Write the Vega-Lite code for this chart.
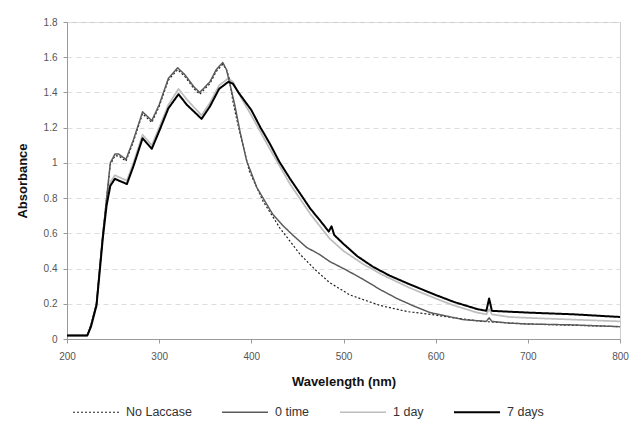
{
  "$schema": "https://vega.github.io/schema/vega-lite/v6.json",
  "width": 553,
  "height": 317,
  "autosize": "none",
  "padding": {"left": 67, "top": 22, "right": 10, "bottom": 82},
  "background": "white",
  "config": {
    "font": "Liberation Sans",
    "view": {"stroke": "#cccccc", "strokeWidth": 1}
  },
  "data": {"values": [
    {"series":"1 day","nm":200,"abs":0.02},{"series":"1 day","nm":210,"abs":0.02},{"series":"1 day","nm":222,"abs":0.02},{"series":"1 day","nm":226,"abs":0.07},{"series":"1 day","nm":232,"abs":0.2},{"series":"1 day","nm":239,"abs":0.6},{"series":"1 day","nm":243,"abs":0.78},{"series":"1 day","nm":247,"abs":0.89},{"series":"1 day","nm":252,"abs":0.93},{"series":"1 day","nm":256,"abs":0.92},{"series":"1 day","nm":265,"abs":0.9},{"series":"1 day","nm":272,"abs":1.0},{"series":"1 day","nm":282,"abs":1.16},{"series":"1 day","nm":292,"abs":1.1},{"series":"1 day","nm":300,"abs":1.2},{"series":"1 day","nm":310,"abs":1.33},{"series":"1 day","nm":321,"abs":1.42},{"series":"1 day","nm":330,"abs":1.36},{"series":"1 day","nm":346,"abs":1.27},{"series":"1 day","nm":355,"abs":1.34},{"series":"1 day","nm":365,"abs":1.44},{"series":"1 day","nm":375,"abs":1.48},{"series":"1 day","nm":380,"abs":1.46},{"series":"1 day","nm":390,"abs":1.36},{"series":"1 day","nm":400,"abs":1.27},{"series":"1 day","nm":420,"abs":1.08},{"series":"1 day","nm":442,"abs":0.88},{"series":"1 day","nm":464,"abs":0.71},{"series":"1 day","nm":485,"abs":0.57},{"series":"1 day","nm":500,"abs":0.5},{"series":"1 day","nm":520,"abs":0.43},{"series":"1 day","nm":540,"abs":0.37},{"series":"1 day","nm":572,"abs":0.29},{"series":"1 day","nm":600,"abs":0.23},{"series":"1 day","nm":620,"abs":0.19},{"series":"1 day","nm":645,"abs":0.15},{"series":"1 day","nm":655,"abs":0.14},{"series":"1 day","nm":658,"abs":0.17},{"series":"1 day","nm":661,"abs":0.14},{"series":"1 day","nm":680,"abs":0.125},{"series":"1 day","nm":700,"abs":0.12},{"series":"1 day","nm":750,"abs":0.11},{"series":"1 day","nm":800,"abs":0.1},

    {"series":"No Laccase","nm":200,"abs":0.02},{"series":"No Laccase","nm":210,"abs":0.02},{"series":"No Laccase","nm":222,"abs":0.02},{"series":"No Laccase","nm":226,"abs":0.08},{"series":"No Laccase","nm":232,"abs":0.2},{"series":"No Laccase","nm":239,"abs":0.6},{"series":"No Laccase","nm":243,"abs":0.8},{"series":"No Laccase","nm":247,"abs":0.99},{"series":"No Laccase","nm":252,"abs":1.04},{"series":"No Laccase","nm":256,"abs":1.04},{"series":"No Laccase","nm":264,"abs":1.01},{"series":"No Laccase","nm":272,"abs":1.12},{"series":"No Laccase","nm":282,"abs":1.28},{"series":"No Laccase","nm":292,"abs":1.23},{"series":"No Laccase","nm":300,"abs":1.32},{"series":"No Laccase","nm":310,"abs":1.47},{"series":"No Laccase","nm":320,"abs":1.53},{"series":"No Laccase","nm":328,"abs":1.49},{"series":"No Laccase","nm":338,"abs":1.42},{"series":"No Laccase","nm":344,"abs":1.39},{"series":"No Laccase","nm":355,"abs":1.45},{"series":"No Laccase","nm":362,"abs":1.52},{"series":"No Laccase","nm":369,"abs":1.56},{"series":"No Laccase","nm":373,"abs":1.53},{"series":"No Laccase","nm":376,"abs":1.48},{"series":"No Laccase","nm":380,"abs":1.35},{"series":"No Laccase","nm":384,"abs":1.25},{"series":"No Laccase","nm":390,"abs":1.12},{"series":"No Laccase","nm":398,"abs":0.95},{"series":"No Laccase","nm":413,"abs":0.78},{"series":"No Laccase","nm":431,"abs":0.63},{"series":"No Laccase","nm":453,"abs":0.48},{"series":"No Laccase","nm":470,"abs":0.39},{"series":"No Laccase","nm":485,"abs":0.32},{"series":"No Laccase","nm":507,"abs":0.25},{"series":"No Laccase","nm":540,"abs":0.19},{"series":"No Laccase","nm":570,"abs":0.155},{"series":"No Laccase","nm":594,"abs":0.14},{"series":"No Laccase","nm":620,"abs":0.12},{"series":"No Laccase","nm":650,"abs":0.1},{"series":"No Laccase","nm":700,"abs":0.085},{"series":"No Laccase","nm":800,"abs":0.07},

    {"series":"0 time","nm":200,"abs":0.02},{"series":"0 time","nm":210,"abs":0.02},{"series":"0 time","nm":222,"abs":0.02},{"series":"0 time","nm":226,"abs":0.08},{"series":"0 time","nm":232,"abs":0.2},{"series":"0 time","nm":239,"abs":0.6},{"series":"0 time","nm":243,"abs":0.8},{"series":"0 time","nm":247,"abs":1.0},{"series":"0 time","nm":252,"abs":1.05},{"series":"0 time","nm":256,"abs":1.05},{"series":"0 time","nm":264,"abs":1.02},{"series":"0 time","nm":272,"abs":1.13},{"series":"0 time","nm":282,"abs":1.29},{"series":"0 time","nm":292,"abs":1.24},{"series":"0 time","nm":300,"abs":1.33},{"series":"0 time","nm":310,"abs":1.48},{"series":"0 time","nm":320,"abs":1.54},{"series":"0 time","nm":328,"abs":1.5},{"series":"0 time","nm":338,"abs":1.43},{"series":"0 time","nm":344,"abs":1.4},{"series":"0 time","nm":355,"abs":1.46},{"series":"0 time","nm":362,"abs":1.53},{"series":"0 time","nm":369,"abs":1.57},{"series":"0 time","nm":373,"abs":1.53},{"series":"0 time","nm":378,"abs":1.42},{"series":"0 time","nm":382,"abs":1.33},{"series":"0 time","nm":388,"abs":1.17},{"series":"0 time","nm":395,"abs":1.01},{"series":"0 time","nm":406,"abs":0.86},{"series":"0 time","nm":415,"abs":0.78},{"series":"0 time","nm":423,"abs":0.71},{"series":"0 time","nm":435,"abs":0.64},{"series":"0 time","nm":445,"abs":0.59},{"series":"0 time","nm":460,"abs":0.52},{"series":"0 time","nm":474,"abs":0.48},{"series":"0 time","nm":485,"abs":0.44},{"series":"0 time","nm":500,"abs":0.4},{"series":"0 time","nm":521,"abs":0.34},{"series":"0 time","nm":540,"abs":0.28},{"series":"0 time","nm":558,"abs":0.23},{"series":"0 time","nm":575,"abs":0.19},{"series":"0 time","nm":594,"abs":0.15},{"series":"0 time","nm":612,"abs":0.13},{"series":"0 time","nm":630,"abs":0.11},{"series":"0 time","nm":655,"abs":0.1},{"series":"0 time","nm":658,"abs":0.12},{"series":"0 time","nm":661,"abs":0.1},{"series":"0 time","nm":680,"abs":0.09},{"series":"0 time","nm":702,"abs":0.085},{"series":"0 time","nm":750,"abs":0.08},{"series":"0 time","nm":800,"abs":0.07},

    {"series":"7 days","nm":200,"abs":0.02},{"series":"7 days","nm":210,"abs":0.02},{"series":"7 days","nm":222,"abs":0.02},{"series":"7 days","nm":226,"abs":0.07},{"series":"7 days","nm":232,"abs":0.19},{"series":"7 days","nm":239,"abs":0.58},{"series":"7 days","nm":243,"abs":0.76},{"series":"7 days","nm":247,"abs":0.87},{"series":"7 days","nm":252,"abs":0.91},{"series":"7 days","nm":256,"abs":0.9},{"series":"7 days","nm":265,"abs":0.88},{"series":"7 days","nm":272,"abs":0.98},{"series":"7 days","nm":282,"abs":1.14},{"series":"7 days","nm":292,"abs":1.08},{"series":"7 days","nm":300,"abs":1.18},{"series":"7 days","nm":310,"abs":1.31},{"series":"7 days","nm":321,"abs":1.39},{"series":"7 days","nm":330,"abs":1.33},{"series":"7 days","nm":346,"abs":1.25},{"series":"7 days","nm":355,"abs":1.32},{"series":"7 days","nm":365,"abs":1.42},{"series":"7 days","nm":375,"abs":1.46},{"series":"7 days","nm":380,"abs":1.45},{"series":"7 days","nm":386,"abs":1.4},{"series":"7 days","nm":393,"abs":1.35},{"series":"7 days","nm":400,"abs":1.3},{"series":"7 days","nm":410,"abs":1.2},{"series":"7 days","nm":420,"abs":1.11},{"series":"7 days","nm":430,"abs":1.01},{"series":"7 days","nm":442,"abs":0.91},{"series":"7 days","nm":455,"abs":0.81},{"series":"7 days","nm":464,"abs":0.74},{"series":"7 days","nm":475,"abs":0.67},{"series":"7 days","nm":484,"abs":0.61},{"series":"7 days","nm":487,"abs":0.64},{"series":"7 days","nm":490,"abs":0.59},{"series":"7 days","nm":500,"abs":0.54},{"series":"7 days","nm":515,"abs":0.47},{"series":"7 days","nm":532,"abs":0.41},{"series":"7 days","nm":550,"abs":0.36},{"series":"7 days","nm":572,"abs":0.31},{"series":"7 days","nm":600,"abs":0.25},{"series":"7 days","nm":620,"abs":0.21},{"series":"7 days","nm":645,"abs":0.17},{"series":"7 days","nm":655,"abs":0.16},{"series":"7 days","nm":658,"abs":0.23},{"series":"7 days","nm":661,"abs":0.16},{"series":"7 days","nm":680,"abs":0.155},{"series":"7 days","nm":700,"abs":0.15},{"series":"7 days","nm":750,"abs":0.14},{"series":"7 days","nm":800,"abs":0.125}
  ]},
  "mark": {"type": "line", "strokeJoin": "round", "clip": true},
  "encoding": {
    "x": {
      "field": "nm", "type": "quantitative",
      "scale": {"domain": [200, 800], "nice": false},
      "axis": {
        "title": "Wavelength (nm)", "values": [200,300,400,500,600,700,800],
        "grid": false, "domainColor": "#999999", "tickColor": "#999999", "tickSize": 4,
        "labelColor": "#555555", "labelFontSize": 10, "labelPadding": 8, "labelFlush": false,
        "titleFontSize": 13, "titleFontWeight": "bold", "titleColor": "#111111", "titlePadding": 14
      }
    },
    "y": {
      "field": "abs", "type": "quantitative",
      "scale": {"domain": [0, 1.8], "nice": false},
      "axis": {
        "title": "Absorbance", "values": [0,0.2,0.4,0.6,0.8,1,1.2,1.4,1.6,1.8], "format": "~f",
        "grid": true, "gridColor": "#dddddd", "gridDash": [5, 4],
        "domainColor": "#999999", "tickColor": "#999999", "tickSize": 4,
        "labelColor": "#555555", "labelFontSize": 10, "labelPadding": 6,
        "titleFontSize": 13, "titleFontWeight": "bold", "titleColor": "#111111", "titlePadding": 14
      }
    },
    "color": {
      "field": "series", "type": "nominal",
      "scale": {"domain": ["No Laccase", "0 time", "1 day", "7 days"], "range": ["#222222", "#5a5a5a", "#bdbdbd", "#000000"]},
      "legend": {
        "title": null, "orient": "none", "direction": "horizontal", "legendX": 5, "legendY": 366,
        "symbolType": "stroke", "symbolSize": 2116, "labelFontSize": 12.5, "labelColor": "#333333",
        "columnPadding": 26, "labelOffset": 6
      }
    },
    "strokeDash": {
      "field": "series", "type": "nominal",
      "scale": {"domain": ["No Laccase", "0 time", "1 day", "7 days"], "range": [[2, 2], [1, 0], [1, 0], [1, 0]]},
      "legend": {
        "title": null, "orient": "none", "direction": "horizontal", "legendX": 5, "legendY": 366,
        "symbolType": "stroke", "symbolSize": 2116, "labelFontSize": 12.5, "labelColor": "#333333",
        "columnPadding": 26, "labelOffset": 6
      }
    },
    "strokeWidth": {
      "field": "series", "type": "nominal",
      "scale": {"domain": ["No Laccase", "0 time", "1 day", "7 days"], "range": [1.2, 2, 2, 3]},
      "legend": {
        "title": null, "orient": "none", "direction": "horizontal", "legendX": 5, "legendY": 366,
        "symbolType": "stroke", "symbolSize": 2116, "labelFontSize": 12.5, "labelColor": "#333333",
        "columnPadding": 26, "labelOffset": 6
      }
    },
    "order": {"field": "nm", "type": "quantitative"}
  }
}
